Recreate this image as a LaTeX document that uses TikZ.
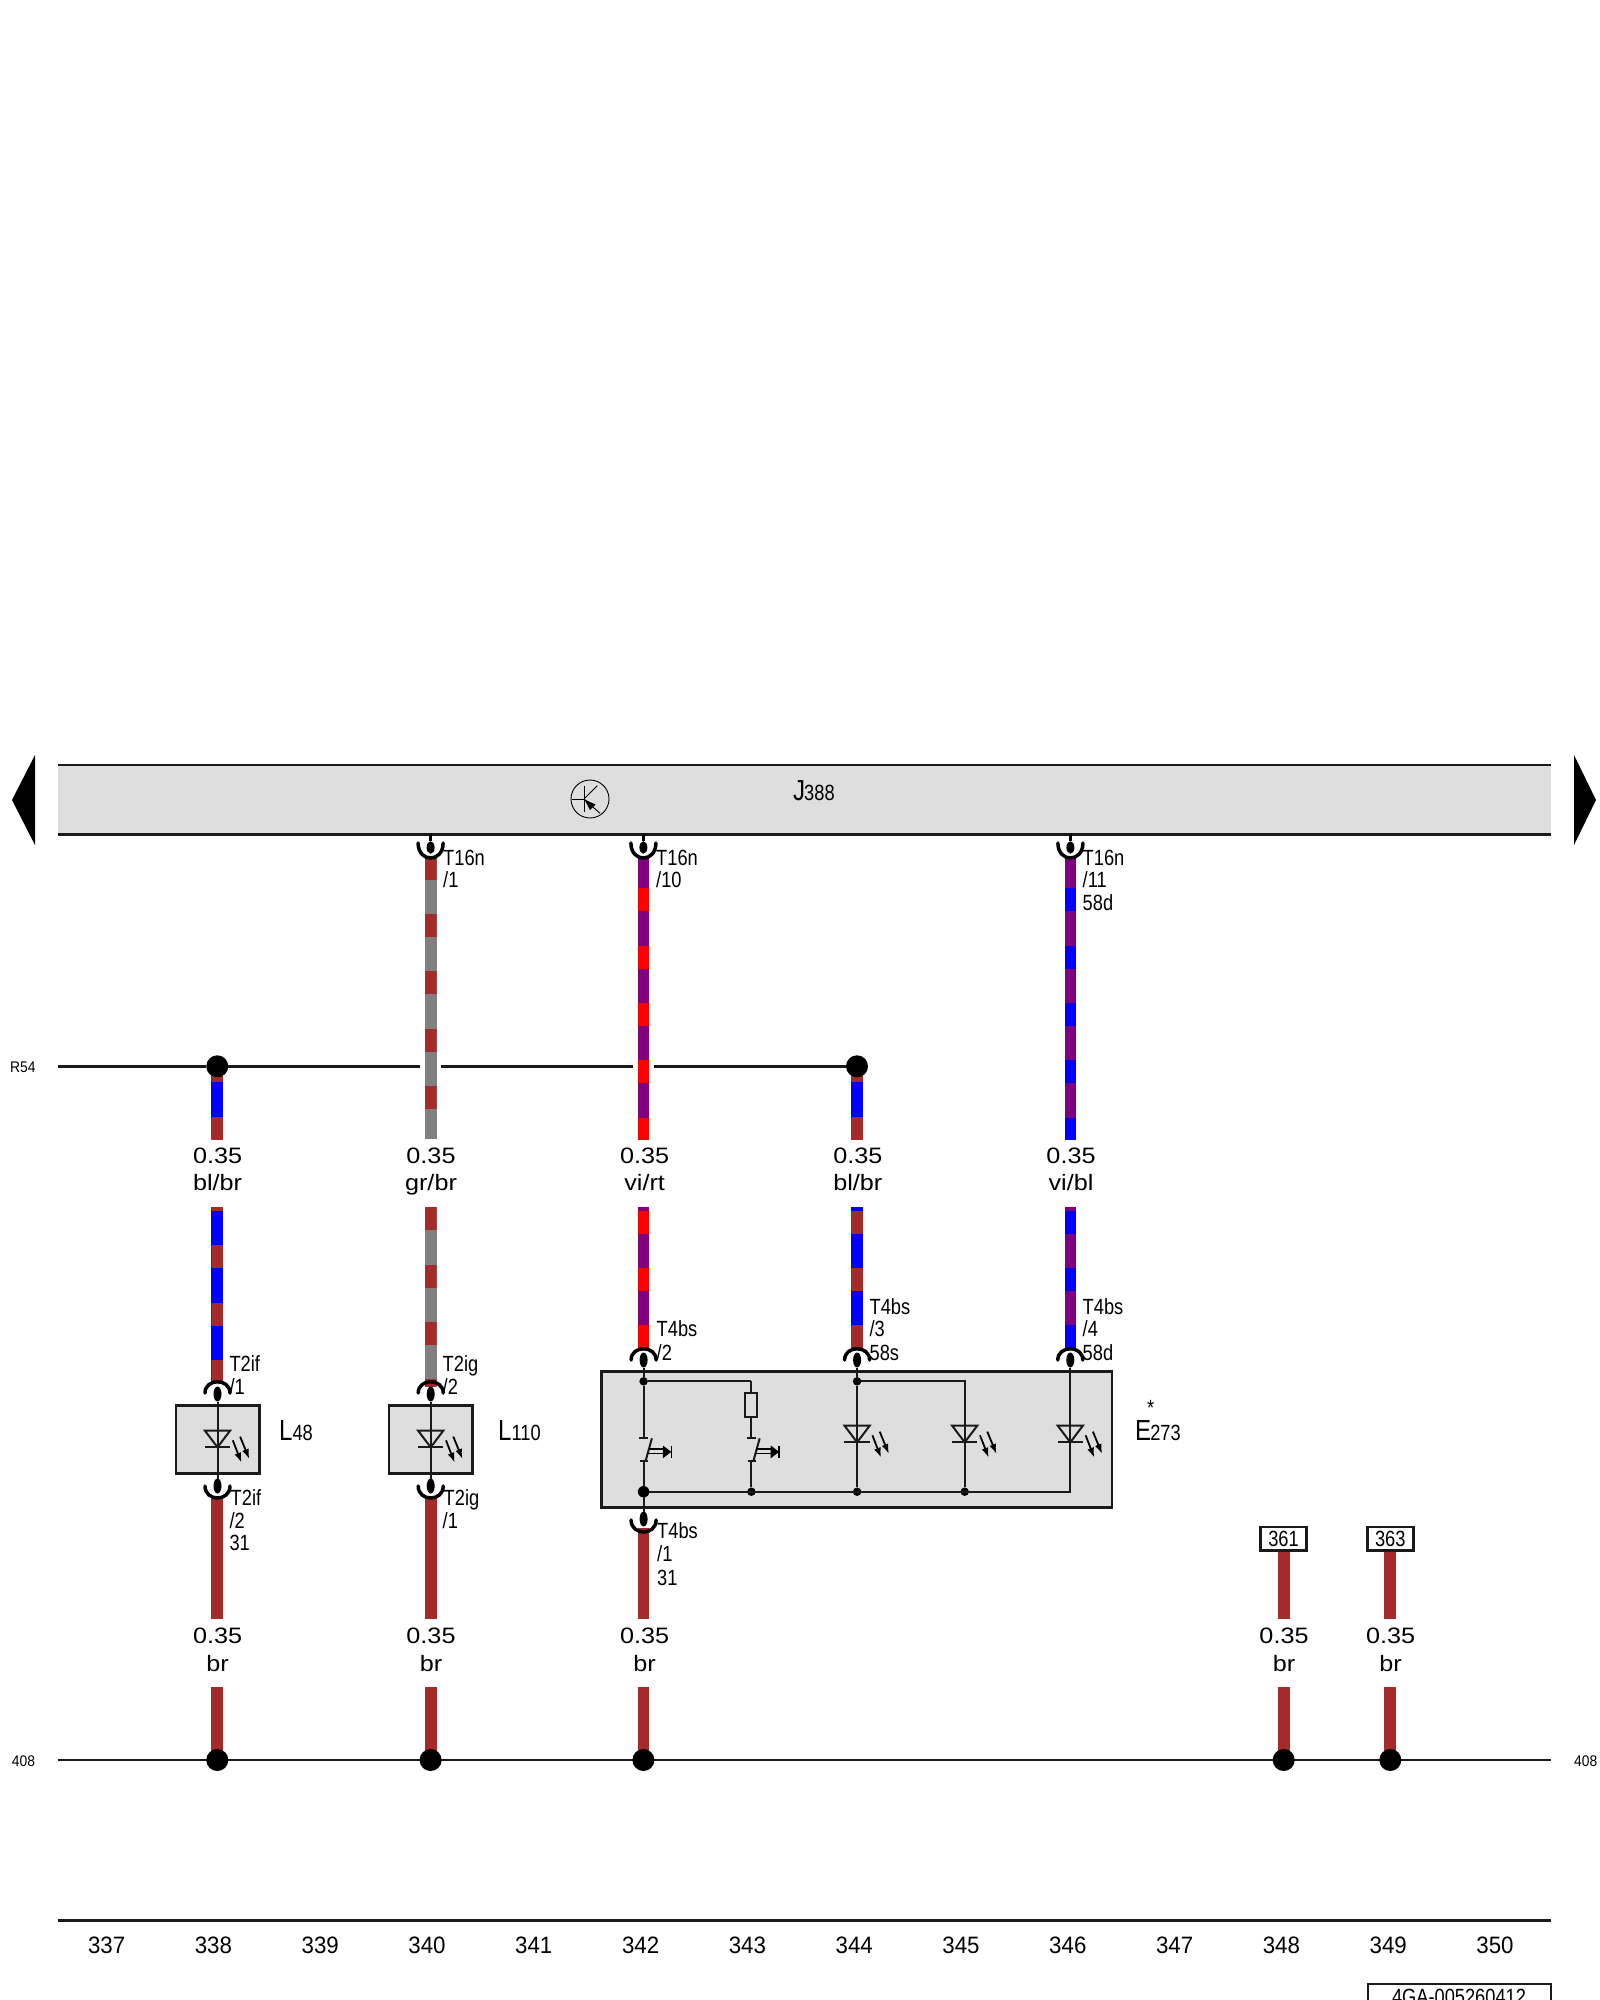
\documentclass[tikz,border=0pt]{standalone}
\usepackage{fontspec}
\setmainfont{Liberation Sans}
\newfontfamily\fnarrow[FakeStretch=0.83]{Liberation Sans}
\newfontfamily\fwide[FakeStretch=1.13]{Liberation Sans}
\newfontfamily\fnum[FakeStretch=0.94]{Liberation Sans}
\newfontfamily\fsmall[FakeStretch=0.9]{Liberation Sans}
\usetikzlibrary{shapes.geometric,arrows.meta}
\definecolor{wbr}{HTML}{A52A2A}
\definecolor{wbl}{HTML}{0000FF}
\definecolor{wrt}{HTML}{FF0000}
\definecolor{wvi}{HTML}{800080}
\definecolor{wgr}{HTML}{808080}
\definecolor{panel}{HTML}{DEDEDE}
\definecolor{ink}{HTML}{1A1A1A}
\tikzset{
  rail/.style={draw=ink,line width=2.5pt},
  thinline/.style={draw=ink,line width=2pt},
  compbox/.style={draw=ink,fill=panel,line width=2.5pt,inner sep=0pt,outer sep=0pt},
  junction/.style={circle,fill=black,inner sep=0pt,minimum size=22pt,outer sep=0pt},
  dotsmall/.style={circle,fill=black,inner sep=0pt,minimum size=8.5pt,outer sep=0pt},
  dotbig/.style={circle,fill=black,inner sep=0pt,minimum size=11.5pt,outer sep=0pt},
  pinoval/.style={ellipse,fill=black,inner sep=0pt,outer sep=0pt,minimum width=8pt,minimum height=15pt},
  cup/.style={draw=black,line width=3.5pt,line cap=round},
  pinlab/.style={font=\fnarrow\fontsize{22}{24}\selectfont,inner sep=0pt,anchor=base west,text=black},
  wirelab/.style={font=\fwide\fontsize{22.3}{24}\selectfont,inner sep=0pt,anchor=base,text=black},
  pagenum/.style={font=\fnum\fontsize{23.7}{25}\selectfont,inner sep=0pt,anchor=base,text=black},
  smalllab/.style={font=\fsmall\fontsize{15.4}{17}\selectfont,inner sep=0pt,anchor=base west,text=black},
  bigname/.style={inner sep=0pt,anchor=base west,text=black},
  tagbox/.style={draw=ink,fill=white,line width=2.5pt,inner sep=0pt,outer sep=0pt,font=\fnarrow\fontsize{22}{24}\selectfont},
  ledarrow/.style={draw=black,line width=1.8pt,-{Latex[length=10pt,width=7pt]}}
}
% name, x, y0, y1, base colour, stripe colour, first stripe start
\newcommand{\stripewire}[7]{%
  \coordinate (#1a) at (#2,#3);
  \coordinate (#1b) at (#2,#4);
  \draw[draw=#5,line width=11.8pt] (#1a) -- (#1b);
  \begin{scope}
    \clip ({#2-6},#3) rectangle ({#2+6},#4);
    \foreach \k in {0,...,4}
      \fill[#6] ({#2-5.9},{#7+57.3*\k}) rectangle ++(11.8,23);
  \end{scope}}
% LED symbol: x, y of the bar
\newcommand{\ledsym}[2]{%
  \draw[thinline,line join=miter] ({#1-12.7},{#2-16.8}) -- ({#1+12.7},{#2-16.8}) -- (#1,#2) -- cycle;
  \draw[thinline] ({#1-12.7},#2) -- ({#1+12.7},#2);
  \draw[ledarrow] ({#1+15.3},{#2-7}) -- ({#1+24},{#2+15.4});
  \draw[ledarrow] ({#1+22.6},{#2-10.7}) -- ({#1+31.8},{#2+11.7});}
% push switch
\newcommand{\switchsym}[1]{%
  \draw[thinline] ({#1-4.5},1438.3) -- ({#1+4.3},1438.3);
  \draw[thinline] ({#1-3.5},1461) -- ({#1+4.3},1461);
  \draw[thinline] ({#1+8.3},1438.3) -- ({#1+2},1461);
  \draw[draw=black,line width=1.6pt] ({#1+5},1449) -- ({#1+20},1449);
  \draw[draw=black,line width=1.6pt] ({#1+3.8},1453.3) -- ({#1+20},1453.3);
  \fill[black] ({#1+19.3},1445.5) -- ({#1+27.7},1451.8) -- ({#1+19.3},1458.3) -- cycle;
  \draw[draw=black,line width=1.5pt] ({#1+27.7},1445.5) -- ({#1+27.7},1458.3);}
% cups: x, y of the arc ends, control offset
\newcommand{\cupdown}[3]{%
  \draw[cup] ({#1-12.5},#2) .. controls ({#1-12.5},{#2+#3}) and ({#1+12.5},{#2+#3}) .. ({#1+12.5},#2);}
\newcommand{\cupup}[3]{%
  \draw[cup] ({#1-12.5},#2) .. controls ({#1-12.5},{#2-#3}) and ({#1+12.5},{#2-#3}) .. ({#1+12.5},#2);}
\begin{document}
\begin{tikzpicture}[x=1pt,y=-1pt]
\useasboundingbox (0,0) rectangle (1600,2000);
\fill[white] (0,0) rectangle (1600,2000);

% --- page arrows
\fill[black] (35,755) -- (12,800) -- (35,845) -- cycle;
\fill[black] (1574,755) -- (1596,800) -- (1574,845) -- cycle;

% --- control unit J388
\fill[panel] (57.7,765) rectangle (1550.5,834.3);
\coordinate (jtl) at (57.7,765);
\coordinate (jtr) at (1550.5,765);
\coordinate (jbl) at (57.7,834.3);
\coordinate (jbr) at (1550.5,834.3);
\draw[rail] (jtl) -- (jtr);
\draw[rail] (jbl) -- (jbr);
\node[bigname,font=\fnarrow\fontsize{22}{24}\selectfont] (J388) at (793,800) {\fontsize{29}{30}\selectfont J\kern-1pt\fontsize{22}{24}\selectfont 388};

% --- transistor symbol
\draw[black,line width=.9pt] (590,799) circle (19);
\draw[black,line width=.9pt] (571.7,799) -- (584,799);
\draw[black,line width=.9pt] (584,785.7) -- (584,811.7);
\draw[black,line width=.9pt] (584,799) -- (597.3,785.7);
\draw[black,line width=.9pt] (584,799) -- (600,813.3);
\fill[black] (584.5,799.5) -- (595.5,804.5) -- (590,810) -- cycle;

% --- striped wires (upper parts)
\stripewire{u340}{430.6}{857}{1139.3}{wgr}{wbr}{856.7}
\stripewire{u342}{643.4}{857}{1139.3}{wvi}{wrt}{888.3}
\stripewire{u346}{1070.4}{857}{1139.3}{wvi}{wbl}{888.3}
\stripewire{u338}{217.3}{1070}{1139.3}{wbl}{wbr}{1059.4}
\stripewire{u344}{857}{1070}{1139.3}{wbl}{wbr}{1059.4}
\fill[wbr] (211.4,1116.7) rectangle (223.2,1139.3);
\fill[wbr] (851.1,1116.7) rectangle (862.9,1139.3);

% --- striped wires (lower parts)
\stripewire{l338}{217.3}{1207.3}{1383}{wbl}{wbr}{1187.9}
\stripewire{l340}{430.6}{1207.3}{1386}{wgr}{wbr}{1207.3}
\stripewire{l342}{643.4}{1207.3}{1350}{wvi}{wrt}{1210.7}
\stripewire{l344}{857}{1207.3}{1350}{wbl}{wbr}{1210.7}
\stripewire{l346}{1070.4}{1207.3}{1350}{wvi}{wbl}{1210.7}

% --- brown earth wires
\stripewire{e338}{217.3}{1496}{1619.3}{wbr}{wbr}{3000}
\stripewire{f338}{217.3}{1687.3}{1760}{wbr}{wbr}{3000}
\stripewire{e340}{430.6}{1496}{1619.3}{wbr}{wbr}{3000}
\stripewire{f340}{430.6}{1687.3}{1760}{wbr}{wbr}{3000}
\stripewire{e342}{643.4}{1528}{1619.3}{wbr}{wbr}{3000}
\stripewire{f342}{643.4}{1687.3}{1760}{wbr}{wbr}{3000}
\stripewire{e348}{1283.7}{1551}{1619.3}{wbr}{wbr}{3000}
\stripewire{f348}{1283.7}{1687.3}{1760}{wbr}{wbr}{3000}
\stripewire{e349}{1390.3}{1551}{1619.3}{wbr}{wbr}{3000}
\stripewire{f349}{1390.3}{1687.3}{1760}{wbr}{wbr}{3000}

% --- rail R54
\node[junction] (r338) at (217.3,1066.3) {};
\node[junction] (r344) at (857,1066.3) {};
\coordinate (r54l) at (57.7,1066.3);
\coordinate (g340l) at (420,1066.3);
\coordinate (g340r) at (440.5,1066.3);
\coordinate (g342l) at (633,1066.3);
\coordinate (g342r) at (653.5,1066.3);
\draw[rail] (r54l) -- (r338) -- (g340l);
\draw[rail] (g340r) -- (g342l);
\draw[rail] (g342r) -- (r344);
\node[smalllab] (R54) at (10,1072.7) {R54};

% --- rail 408
\coordinate (g408l) at (57.7,1760);
\coordinate (g408r) at (1550.5,1760);
\draw[rail] (g408l) -- (g408r);
\node[junction] (g338) at (217.3,1760) {};
\node[junction] (g340) at (430.6,1760) {};
\node[junction] (g342) at (643.4,1760) {};
\node[junction] (g348) at (1283.7,1760) {};
\node[junction] (g349) at (1390.3,1760) {};
\node[smalllab] (n408l) at (11.7,1766.7) {408};
\node[smalllab] (n408r) at (1574,1766.7) {408};

% --- connectors at J388
\foreach \nm/\cx in {a/430.6,b/643.4,c/1070.4}{
  \node[pinoval,minimum height=12.5pt] (t\nm) at (\cx,847.5) {};
  \draw[draw=black,line width=3pt] (\cx,834.3) -- (t\nm);
  \cupdown{\cx}{843}{20}
}
\node[pinlab] (t16a1) at (443,865) {T16n};
\node[pinlab] (t16a2) at (443,887.7) {/1};
\node[pinlab] (t16b1) at (656,865) {T16n};
\node[pinlab] (t16b2) at (656,887.7) {/10};
\node[pinlab] (t16c1) at (1082.5,865) {T16n};
\node[pinlab] (t16c2) at (1082.5,887.7) {/11};
\node[pinlab] (t16c3) at (1082.5,910) {58d};

% --- wire size / colour labels
\foreach \nm/\cx/\txt in {a/217.6/bl{/}br,b/431/gr{/}br,c/644.6/vi{/}rt,d/857.8/bl{/}br,e/1071/vi{/}bl}{
  \node[wirelab] (sz\nm) at (\cx,1163.3) {0.35};
  \node[wirelab] (co\nm) at (\cx,1190.7) {\txt};
}
\foreach \nm/\cx in {a/217.6,b/431,c/644.6,d/1284,e/1390.6}{
  \node[wirelab] (bz\nm) at (\cx,1643.3) {0.35};
  \node[wirelab] (bo\nm) at (\cx,1671) {br};
}

% --- lamp L48
\node[compbox,minimum width=83.5pt,minimum height=68pt] (L48) at (217.5,1439.7) {};
\node[pinoval] (p48t) at (217.5,1394) {};
\node[pinoval] (p48b) at (217.5,1486) {};
\draw[thinline] (p48t) -- (p48b);
\ledsym{217.5}{1447.3}
\cupup{217.5}{1393}{15}
\cupdown{217.5}{1486}{16}
\node[bigname,font=\fnarrow\fontsize{29}{30}\selectfont] (L48n) at (279,1440) {L\fontsize{22}{24}\selectfont 48};
\node[pinlab] (t2if1) at (229.3,1371.7) {T2if};
\node[pinlab] (t2if2) at (229.3,1394) {/1};
\node[pinlab] (t2if3) at (230.5,1505) {T2if};
\node[pinlab] (t2if4) at (229.3,1528) {/2};
\node[pinlab] (t2if5) at (229.3,1550) {31};

% --- lamp L110
\node[compbox,minimum width=83.5pt,minimum height=68pt] (L110) at (430.7,1439.7) {};
\node[pinoval] (p110t) at (430.7,1394) {};
\node[pinoval] (p110b) at (430.7,1486) {};
\draw[thinline] (p110t) -- (p110b);
\ledsym{430.7}{1447.3}
\cupup{430.7}{1393}{15}
\cupdown{430.7}{1486}{16}
\node[bigname,font=\fnarrow\fontsize{29}{30}\selectfont] (L110n) at (498,1440) {L\fontsize{22}{24}\selectfont 110};
\node[pinlab] (t2ig1) at (442.5,1371.7) {T2ig};
\node[pinlab] (t2ig2) at (442.5,1394) {/2};
\node[pinlab] (t2ig3) at (443.5,1505) {T2ig};
\node[pinlab] (t2ig4) at (442.5,1528) {/1};

% --- switch unit E273
\node[compbox,minimum width=510.6pt,minimum height=136pt] (E273) at (856.75,1439.7) {};
\node[pinoval] (p4a) at (643.6,1360) {};
\node[pinoval] (p4b) at (857.1,1360) {};
\node[pinoval] (p4c) at (1070.3,1360) {};
\node[pinoval] (p4d) at (643.6,1519) {};
\node[dotsmall] (d1) at (643.6,1381.3) {};
\node[dotsmall] (d2) at (857.1,1381.3) {};
\node[dotbig] (d3) at (643.6,1491.7) {};
\node[dotsmall] (d4) at (751.4,1491.7) {};
\node[dotsmall] (d5) at (857.1,1491.7) {};
\node[dotsmall] (d6) at (964.7,1491.7) {};
\coordinate (d7) at (1070.3,1491.7);
\coordinate (c1) at (751.4,1381.3);
\coordinate (c2) at (964.7,1381.3);
\coordinate (s1a) at (643.6,1438.3);
\coordinate (s1b) at (643.6,1461);
\coordinate (s2a) at (751.4,1438.3);
\coordinate (s2b) at (751.4,1461);
\draw[thinline] (p4a) -- (d1) -- (s1a);
\draw[thinline] (s1b) -- (d3);
\draw[thinline] (d3) -- (p4d);
\draw[thinline] (d1) -- (c1);
\node[draw=ink,line width=2pt,fill=panel,minimum width=12pt,minimum height=23.4pt,inner sep=0pt] (res) at (751.4,1405) {};
\draw[thinline] (c1) -- (res);
\draw[thinline] (res) -- (s2a);
\draw[thinline] (s2b) -- (d4);
\draw[thinline] (p4b) -- (d2) -- (d5);
\draw[thinline] (d2) -- (c2) -- (d6);
\draw[thinline,line join=miter] (p4c) -- (d7) -- (d3);
\switchsym{643.6}
\switchsym{751.4}
\ledsym{857.1}{1442.3}
\ledsym{964.7}{1442.3}
\ledsym{1070.3}{1442.3}
\cupup{643.6}{1360}{15}
\cupup{857.1}{1360}{15}
\cupup{1070.3}{1360}{15}
\cupdown{643.6}{1520}{16}
\node[bigname,font=\fnarrow\fontsize{29}{30}\selectfont] (E273n) at (1135,1440) {E\kern-1pt\fontsize{22}{24}\selectfont 273};
\node[pinlab] (star) at (1147,1415) {*};
\node[pinlab] (t4a1) at (656.5,1336.7) {T4bs};
\node[pinlab] (t4a2) at (656.5,1360) {/2};
\node[pinlab] (t4b1) at (869.4,1314) {T4bs};
\node[pinlab] (t4b2) at (869.4,1336.7) {/3};
\node[pinlab] (t4b3) at (869.4,1360) {58s};
\node[pinlab] (t4c1) at (1082.5,1314) {T4bs};
\node[pinlab] (t4c2) at (1082.5,1336.7) {/4};
\node[pinlab] (t4c3) at (1082.5,1360) {58d};
\node[pinlab] (t4d1) at (657,1538.3) {T4bs};
\node[pinlab] (t4d2) at (657,1561.7) {/1};
\node[pinlab] (t4d3) at (657,1585) {31};

% --- reference tags
\node[tagbox,minimum width=46pt,minimum height=23.5pt] (tag361) at (1283.5,1538.8) {361};
\node[tagbox,minimum width=46pt,minimum height=23.5pt] (tag363) at (1390.3,1538.8) {363};

% --- page scale
\coordinate (sl) at (57.7,1920.3);
\coordinate (sr) at (1550.5,1920.3);
\draw[rail] (sl) -- (sr);
\foreach \n in {337,...,350}
  \node[pagenum] (p\n) at ({106.6+106.8*(\n-337)},1953.3) {\n};

% --- drawing number (cut by the page edge, as in the reference)
\draw[draw=ink,line width=2.5pt] (1367.9,2010) -- (1367.9,1984) -- (1551,1984) -- (1551,2010);
\node[pinlab,anchor=base] (docno) at (1459,2004) {4GA-005260412};
\end{tikzpicture}
\end{document}
